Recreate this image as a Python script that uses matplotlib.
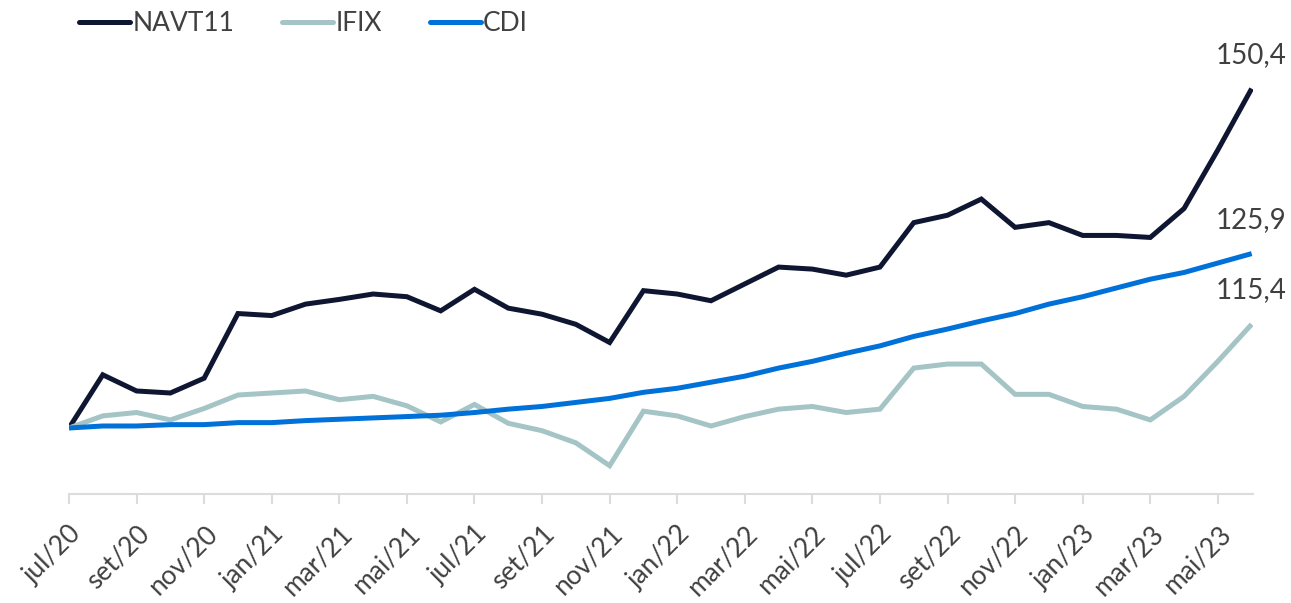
import matplotlib
matplotlib.use("Agg")
import matplotlib.pyplot as plt
import numpy as np

months = ["jul/20", "ago/20", "set/20", "out/20", "nov/20", "dez/20",
          "jan/21", "fev/21", "mar/21", "abr/21", "mai/21", "jun/21",
          "jul/21", "ago/21", "set/21", "out/21", "nov/21", "dez/21",
          "jan/22", "fev/22", "mar/22", "abr/22", "mai/22", "jun/22",
          "jul/22", "ago/22", "set/22", "out/22", "nov/22", "dez/22",
          "jan/23", "fev/23", "mar/23", "abr/23", "mai/23", "jun/23"]

navt11 = [100.0, 107.9, 105.5, 105.2, 107.4, 117.0, 116.7, 118.4, 119.1, 119.9,
          119.5, 117.4, 120.6, 117.8, 116.9, 115.4, 112.7, 120.4, 119.9, 118.9,
          121.4, 123.9, 123.6, 122.7, 123.9, 130.5, 131.6, 134.0, 129.8, 130.5,
          128.6, 128.6, 128.3, 132.6, 141.3, 150.4]

ifix = [100.0, 101.8, 102.3, 101.2, 102.9, 104.9, 105.2, 105.5, 104.2, 104.7,
        103.3, 100.9, 103.5, 100.7, 99.6, 97.8, 94.4, 102.5, 101.8, 100.3,
        101.7, 102.8, 103.2, 102.3, 102.8, 108.9, 109.5, 109.5, 105.0, 105.0,
        103.2, 102.8, 101.2, 104.7, 109.9, 115.4]

cdi = [100.0, 100.3, 100.3, 100.5, 100.5, 100.8, 100.8, 101.1, 101.3, 101.5,
       101.7, 101.9, 102.3, 102.8, 103.2, 103.8, 104.4, 105.3, 105.9, 106.8,
       107.7, 108.9, 109.9, 111.1, 112.2, 113.6, 114.7, 115.9, 117.0, 118.4,
       119.5, 120.8, 122.1, 123.1, 124.5, 125.9]

series_names = ["NAVT11", "IFIX", "CDI"]
colors = ["#0e1631", "#a4c4c6", "#0071d9"]
end_labels = ["150,4", "115,4", "125,9"]

plt.rcParams["font.family"] = ["Lato", "DejaVu Sans"]
TXT = "#404040"

W, H = 1291, 603
fig = plt.figure(figsize=(W / 100, H / 100), dpi=100)
ax = fig.add_axes([69 / W, 1 - 494 / H, (1253 - 69) / W, (494 - 24) / H])

x = np.arange(len(months))
data = [navt11, ifix, cdi]
lines = []
for name, vals, c in zip(series_names, data, colors):
    ln, = ax.plot(x, vals, color=c, lw=3.6, label=name,
                  solid_capstyle="butt", solid_joinstyle="miter")
    lines.append(ln)

for vals, lab in zip(data, end_labels):
    ax.annotate(lab, (x[-1], vals[-1]), xytext=(-1, 34), textcoords="offset pixels",
                ha="center", va="center", fontsize=20, color=TXT)

ax.set_xlim(0, 35.04)
ax.set_ylim(90.2, 160)
ax.set_yticks([])
for s in ["top", "right", "left"]:
    ax.spines[s].set_visible(False)
ax.spines["bottom"].set_color("#dcdcdc")
ax.spines["bottom"].set_linewidth(1.5)

ax.set_xticks(x[::2])
ax.set_xticklabels(months[::2], rotation=45, ha="right", va="top",
                   rotation_mode="anchor", fontsize=19, color=TXT)
ax.tick_params(axis="x", length=7.5, width=1.5, color="#dcdcdc", pad=12)

leg = fig.legend(handles=lines, loc="upper left",
                 bbox_to_anchor=(79 / W, 1 - 11 / H), borderaxespad=0, borderpad=0,
                 ncol=3, frameon=False, fontsize=19, handlelength=1.95,
                 handletextpad=0.08, columnspacing=1.8, labelcolor=TXT)
for lh in leg.get_lines():
    lh.set_solid_capstyle("round")
    lh.set_linewidth(3.6)

fig.savefig("out.png", dpi=100)
